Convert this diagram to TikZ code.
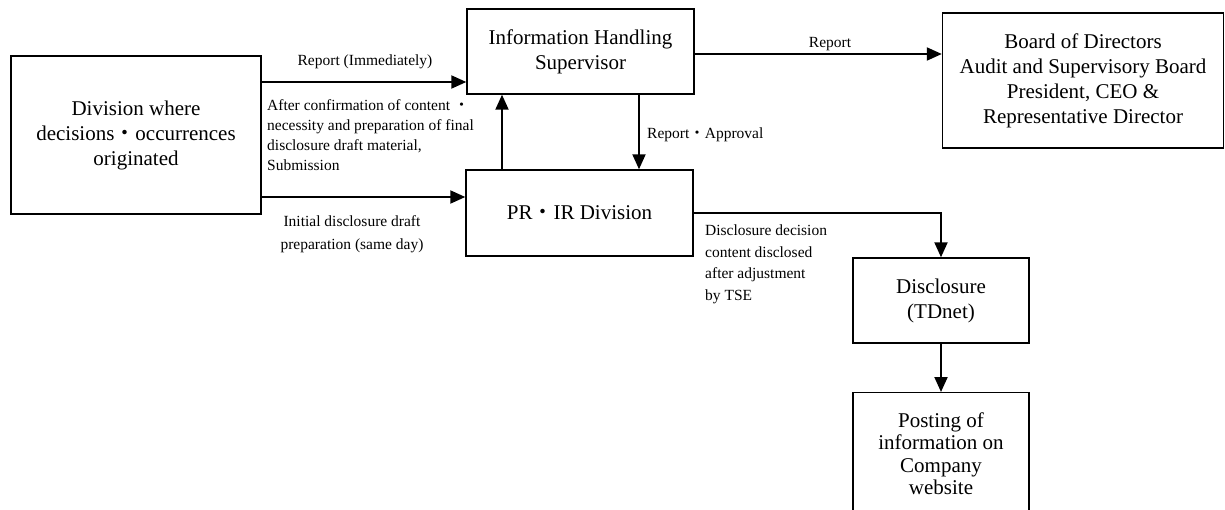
\documentclass[tikz,border=0pt]{standalone}
\usepackage{fontspec}
\setmainfont{Liberation Serif}
\newfontfamily\cjk{Noto Sans CJK JP}
\newcommand{\nkg}{{\cjk ・}}
\usetikzlibrary{arrows.meta,positioning}

\begin{document}
\begin{tikzpicture}[x=1pt,y=-1pt,
		box/.style={draw,line width=1.4pt,align=center,inner sep=0pt,font=\fontsize{21}{25}\selectfont},
		lbl/.style={inner sep=0pt,font=\fontsize{15.5}{20}\selectfont},
		arr/.style={line width=2pt,-{Triangle[length=15pt,width=13pt]}}]
		% page frame, the last box runs off the bottom
		\useasboundingbox (0,0) rectangle (1225,509);
		\clip (0,0) rectangle (1225,509);
		
		% the boxes
		\node[box,minimum width=250pt,minimum height=158pt] (div) at (136,135) {Division where\\decisions\nkg occurrences\\originated};
		\node[box,minimum width=227pt,minimum height=85pt] (sup) at (580.5,51.5) {Information Handling\\Supervisor};
		\node[box,minimum width=227pt,minimum height=86pt] (prir) at (579.5,213) {PR\nkg IR Division};
		\node[box,minimum width=281pt,minimum height=135pt] (board) at (1083,80.5) {Board of Directors\\Audit and Supervisory Board\\President, CEO \&\\Representative Director};
		\node[box,minimum width=176pt,minimum height=85pt] (discl) at (941,300.5) {Disclosure\\(TDnet)};
		\node[box,minimum width=176pt,minimum height=122pt,anchor=north,font=\fontsize{21}{22.5}\selectfont] (post) at (941,392) {Posting of\\information on\\Company\\website};
		
		% points where the arrows meet the boxes
		\coordinate (inrep) at ([yshift=-30.5pt]sup.west);
		\coordinate (indraft) at ([yshift=16pt]prir.west);
		\coordinate (upfoot) at ([xshift=-77.5pt]prir.north);
		\coordinate (downtop) at ([xshift=58.5pt]sup.south);
		\coordinate (outrep) at ([yshift=-2.5pt]sup.east);
		
		% connectors
		\draw[arr] (div.east |- inrep) -- (inrep);
		\draw[arr] (div.east |- indraft) -- (indraft);
		\draw[arr] (upfoot) -- (upfoot |- sup.south);
		\draw[arr] (downtop) -- (downtop |- prir.north);
		\draw[arr] (outrep) -- (board.west |- outrep);
		\draw[arr] (prir.east) -| (discl.north);
		\draw[arr] (discl.south) -- (post.north);
		
		% labels on the connectors
		\node[lbl] (lrepnow) at (365,62) {Report (Immediately)};
		\node[lbl,anchor=west,align=left] (lconfirm) at (267,135) {After confirmation of content \nkg\\necessity and preparation of final\\disclosure draft material,\\Submission};
		\node[lbl,align=center,font=\fontsize{15.5}{23}\selectfont] (linitial) at (352,234) {Initial disclosure draft\\preparation (same day)};
		\node[lbl] (lreport) at (830,44) {Report};
		\node[lbl,anchor=west] (lapproval) at (647,135) {Report\nkg Approval};
		\node[lbl,anchor=west,align=left,font=\fontsize{15.5}{21.5}\selectfont] (ldecision) at (705,264.5) {Disclosure decision\\content disclosed\\after adjustment\\by TSE};
\end{tikzpicture}
\end{document}
